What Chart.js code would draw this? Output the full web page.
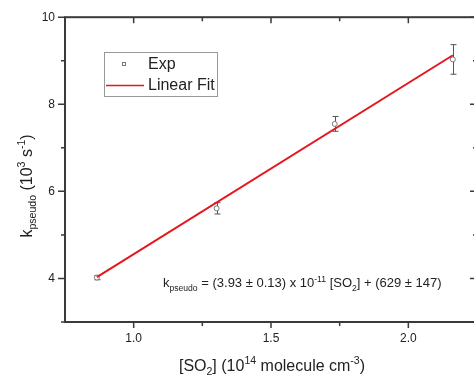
<!DOCTYPE html>
<html>
<head>
<meta charset="utf-8">
<script src="https://cdn.jsdelivr.net/npm/chart.js@4.4.1/dist/chart.umd.min.js"></script>
<style>
  html, body { margin: 0; padding: 0; background: #fff; overflow: hidden; }
  #wrap { width: 474px; height: 376px; overflow: hidden; }
  canvas { display: block; }
</style>
</head>
<body>
<div id="wrap"><canvas id="kChart" width="482" height="376"></canvas></div>
<script>
// [SO2] in 10^14 molecule cm^-3, k_pseudo in 10^3 s^-1
const so2Conc = [0.866, 1.302, 1.732, 2.162];
const kPseudo = [4.02, 5.61, 7.55, 9.03];
const kErr = [0.05, 0.13, 0.17, 0.34];

// linear fit: slope 3.93e-11 cm^3 s^-1, intercept 629 s^-1 (in plot units)
const fitSlope = 3.93;
const fitIntercept = 0.629;
const fitRange = [0.866, 2.162];

const xTicks = [0.75, 1.0, 1.25, 1.5, 1.75, 2.0, 2.25];
const xLabels = ['1.0', '1.5', '2.0'];
const yTicks = [3, 4, 5, 6, 7, 8, 9, 10];
const yLabels = ['4', '6', '8', '10'];

const FONT = '"Liberation Sans", Arial, sans-serif';
const AXIS_COLOR = '#3a3a3a';
const TEXT_COLOR = '#222';

// text runs with sub/superscripts, left aligned at x on baseline y
function richWidth(ctx, parts, size) {
    let w = 0;
    parts.forEach(p => {
        const s = p.s ? size * 0.66 : size;
        ctx.font = s + 'px ' + FONT;
        w += ctx.measureText(p.t).width;
    });
    return w;
}

function drawRich(ctx, parts, x, y, size) {
    let cx = x;
    parts.forEach(p => {
        const s = p.s ? size * 0.66 : size;
        let dy = 0;
        if (p.s === 'sub') dy = size * 0.28;
        if (p.s === 'sup') dy = -size * 0.42;
        ctx.font = s + 'px ' + FONT;
        ctx.fillText(p.t, cx, y + dy);
        cx += ctx.measureText(p.t).width;
    });
}

const framePlugin = {
    id: 'frame',
    beforeDatasetsDraw(chart) {
        const ctx = chart.ctx;
        const xs = chart.scales.x;
        const ys = chart.scales.y;
        // error bars for the measured points
        ctx.save();
        ctx.strokeStyle = '#555';
        ctx.lineWidth = 1;
        so2Conc.forEach((c, i) => {
            const px = Math.round(xs.getPixelForValue(c)) + 0.5;
            const top = ys.getPixelForValue(kPseudo[i] + kErr[i]);
            const bot = ys.getPixelForValue(kPseudo[i] - kErr[i]);
            ctx.beginPath();
            ctx.moveTo(px, top); ctx.lineTo(px, bot);
            ctx.moveTo(px - 3, top); ctx.lineTo(px + 3, top);
            ctx.moveTo(px - 3, bot); ctx.lineTo(px + 3, bot);
            ctx.stroke();
        });
        ctx.restore();
    },
    afterDraw(chart) {
        const ctx = chart.ctx;
        const a = chart.chartArea;
        const xs = chart.scales.x;
        const ys = chart.scales.y;
        ctx.save();

        // box frame
        ctx.strokeStyle = AXIS_COLOR;
        ctx.lineWidth = 2;
        ctx.strokeRect(a.left, a.top, a.right - a.left, a.bottom - a.top);

        // tick marks: bottom/left point outward, top/right point inward
        ctx.lineWidth = 1.5;
        ctx.beginPath();
        xTicks.forEach(v => {
            if (v <= xs.min || v >= xs.max) return;
            const px = xs.getPixelForValue(v);
            const len = xLabels.includes(v.toFixed(1)) ? 6 : 4;
            ctx.moveTo(px, a.bottom); ctx.lineTo(px, a.bottom + len);
            ctx.moveTo(px, a.top); ctx.lineTo(px, a.top + len);
        });
        yTicks.forEach(v => {
            const py = ys.getPixelForValue(v);
            const len = yLabels.includes(String(v)) ? 7 : 4;
            ctx.moveTo(a.left, py); ctx.lineTo(a.left - len, py);
            ctx.moveTo(a.right, py); ctx.lineTo(a.right - len, py);
        });
        ctx.stroke();

        // legend
        ctx.strokeStyle = '#999';
        ctx.lineWidth = 1;
        ctx.strokeRect(104.5, 52.5, 113, 44);
        ctx.strokeStyle = '#777';
        ctx.strokeRect(122.5, 62.5, 3, 3);
        ctx.strokeStyle = '#e3171d';
        ctx.lineWidth = 1.5;
        ctx.beginPath();
        ctx.moveTo(106, 85.5); ctx.lineTo(144, 85.5);
        ctx.stroke();
        ctx.fillStyle = TEXT_COLOR;
        ctx.font = '16px ' + FONT;
        ctx.textBaseline = 'middle';
        ctx.fillText(chart.data.datasets[0].label, 148, 65);
        ctx.fillText(chart.data.datasets[1].label, 148, 86);

        ctx.textBaseline = 'alphabetic';

        // fit equation
        drawRich(ctx, [
            { t: 'k' }, { t: 'pseudo', s: 'sub' },
            { t: ' = (3.93 \u00b1 0.13) x 10' }, { t: '-11', s: 'sup' },
            { t: ' [SO' }, { t: '2', s: 'sub' },
            { t: '] + (629 \u00b1 147)' }
        ], 163, 287, 13);

        // x axis title
        const xTitle = [
            { t: '[SO' }, { t: '2', s: 'sub' }, { t: '] (10' }, { t: '14', s: 'sup' },
            { t: ' molecule cm' }, { t: '-3', s: 'sup' }, { t: ')' }
        ];
        const xw = richWidth(ctx, xTitle, 16);
        drawRich(ctx, xTitle, 272 - xw / 2, 371, 16);

        // y axis title
        const yTitle = [
            { t: 'k' }, { t: 'pseudo', s: 'sub' }, { t: ' (10' }, { t: '3', s: 'sup' },
            { t: ' s' }, { t: '-1', s: 'sup' }, { t: ')' }
        ];
        const yw = richWidth(ctx, yTitle, 16);
        ctx.translate(32, 186);
        ctx.rotate(-Math.PI / 2);
        drawRich(ctx, yTitle, -yw / 2, 0, 16);

        ctx.restore();
    }
};

const fitLine = fitRange.map(x => ({ x: x, y: fitSlope * x + fitIntercept }));

new Chart(document.getElementById('kChart'), {
    type: 'scatter',
    data: {
        datasets: [{
            label: 'Exp',
            data: so2Conc.map((c, i) => ({ x: c, y: kPseudo[i] })),
            pointStyle: 'circle',
            pointRadius: 2.5,
            borderWidth: 1,
            borderColor: '#777',
            backgroundColor: '#fff',
            order: 2
        }, {
            label: 'Linear Fit',
            data: fitLine,
            showLine: true,
            borderColor: '#e3171d',
            borderWidth: 2,
            pointRadius: 0,
            order: 1
        }]
    },
    options: {
        responsive: false,
        animation: false,
        layout: { padding: { top: 17, right: 4, left: 0, bottom: 0 } },
        plugins: {
            legend: { display: false },
            tooltip: { enabled: false }
        },
        scales: {
            x: {
                type: 'linear',
                min: 0.75,
                max: 2.25,
                afterBuildTicks: s => { s.ticks = xTicks.map(v => ({ value: v })); },
                afterFit: s => { s.height = 54; s.paddingLeft = 0; s.paddingRight = 0; },
                grid: { display: false, drawTicks: false },
                border: { display: false },
                ticks: {
                    padding: 9,
                    color: TEXT_COLOR,
                    font: { family: FONT, size: 12 },
                    maxRotation: 0,
                    autoSkip: false,
                    callback: v => {
                        const s = Number(v).toFixed(1);
                        return xLabels.includes(s) ? s : '';
                    }
                }
            },
            y: {
                type: 'linear',
                min: 3,
                max: 10,
                afterBuildTicks: s => { s.ticks = yTicks.map(v => ({ value: v })); },
                afterFit: s => { s.width = 65; },
                grid: { display: false, drawTicks: false },
                border: { display: false },
                ticks: {
                    padding: 10,
                    color: TEXT_COLOR,
                    font: { family: FONT, size: 12 },
                    autoSkip: false,
                    callback: v => yLabels.includes(String(v)) ? String(v) : ''
                }
            }
        }
    },
    plugins: [framePlugin]
});
</script>
</body>
</html>
